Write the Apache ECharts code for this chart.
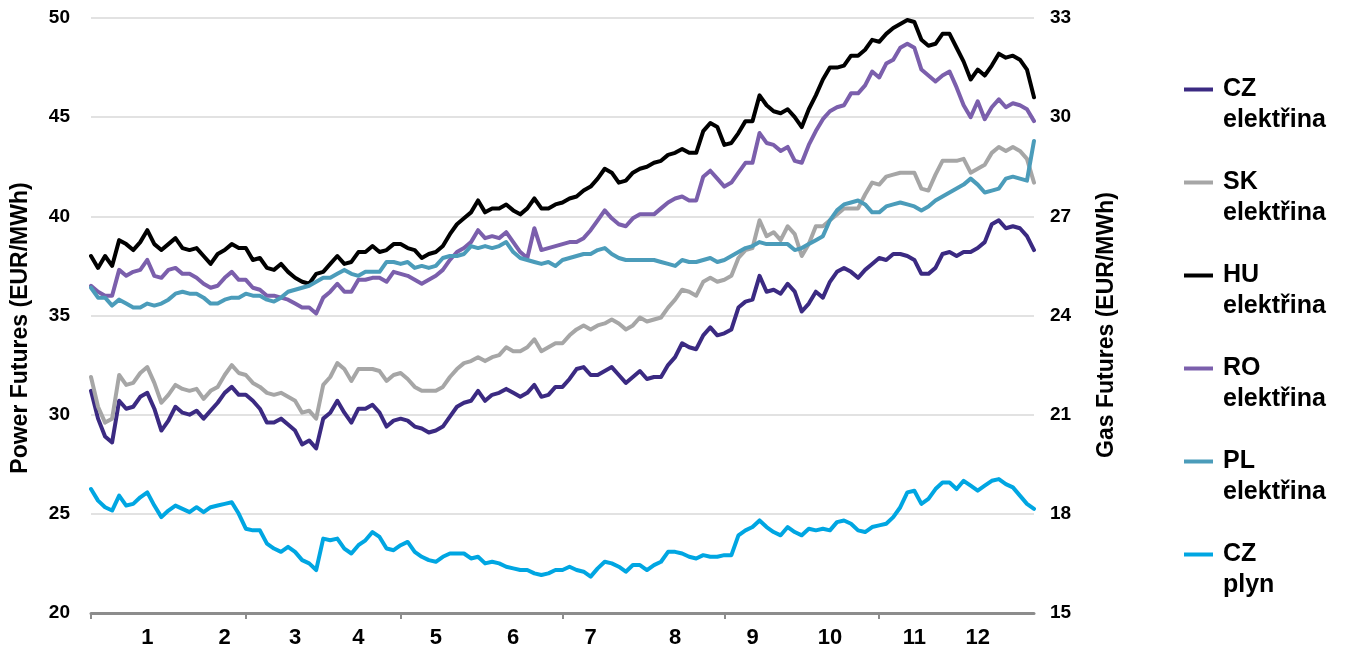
<!DOCTYPE html>
<html>
<head>
<meta charset="utf-8">
<script src="https://cdn.jsdelivr.net/npm/echarts@6/dist/echarts.min.js"></script>
<style>
html, body { margin: 0; padding: 0; background: #fff; }
#chart { width: 1349px; height: 656px; }
</style>
</head>
<body>
<div id="chart"></div>
<script>
// power futures, EUR/MWh (left axis)
var czPower = [31.2,29.8,28.9,28.6,30.7,30.3,30.4,30.9,31.1,30.3,
  29.2,29.7,30.4,30.1,30.0,30.2,29.8,30.2,30.6,31.1,
  31.4,31.0,31.0,30.7,30.3,29.6,29.6,29.8,29.5,29.2,
  28.5,28.7,28.3,29.8,30.1,30.7,30.1,29.6,30.3,30.3,
  30.5,30.1,29.4,29.7,29.8,29.7,29.4,29.3,29.1,29.2,
  29.4,29.9,30.4,30.6,30.7,31.2,30.7,31.0,31.1,31.3,
  31.1,30.9,31.1,31.5,30.9,31.0,31.4,31.4,31.8,32.3,
  32.4,32.0,32.0,32.2,32.4,32.0,31.6,31.9,32.2,31.8,
  31.9,31.9,32.5,32.9,33.6,33.4,33.3,34.0,34.4,34.0,
  34.1,34.3,35.4,35.7,35.8,37.0,36.2,36.3,36.1,36.6,
  36.2,35.2,35.6,36.2,35.9,36.7,37.2,37.4,37.2,36.9,
  37.3,37.6,37.9,37.8,38.1,38.1,38.0,37.8,37.1,37.1,
  37.4,38.1,38.2,38.0,38.2,38.2,38.4,38.7,39.6,39.8,
  39.4,39.5,39.4,39.0,38.3];
var skPower = [31.9,30.4,29.6,29.8,32.0,31.5,31.6,32.1,32.4,31.6,
  30.6,31.0,31.5,31.3,31.2,31.3,30.8,31.2,31.4,32.0,
  32.5,32.1,32.0,31.6,31.4,31.1,31.0,31.1,30.9,30.7,
  30.1,30.2,29.8,31.5,31.9,32.6,32.3,31.7,32.3,32.3,
  32.3,32.2,31.7,32.0,32.1,31.8,31.4,31.2,31.2,31.2,
  31.4,31.9,32.3,32.6,32.7,32.9,32.7,32.9,33.0,33.4,
  33.2,33.2,33.4,33.8,33.2,33.4,33.6,33.6,34.0,34.3,
  34.5,34.3,34.5,34.6,34.8,34.6,34.3,34.5,34.9,34.7,
  34.8,34.9,35.4,35.8,36.3,36.2,36.0,36.7,36.9,36.7,
  36.8,37.0,37.9,38.3,38.4,39.8,39.0,39.2,38.8,39.5,
  39.1,38.0,38.6,39.5,39.5,39.8,40.1,40.4,40.4,40.4,
  41.1,41.7,41.6,42.0,42.1,42.2,42.2,42.2,41.4,41.3,
  42.1,42.8,42.8,42.8,42.9,42.2,42.4,42.6,43.2,43.5,
  43.3,43.5,43.3,42.9,41.7];
var huPower = [38.0,37.4,38.0,37.5,38.8,38.6,38.3,38.7,39.3,38.6,
  38.3,38.6,38.9,38.4,38.3,38.4,38.0,37.6,38.1,38.3,
  38.6,38.4,38.4,37.8,37.9,37.4,37.3,37.6,37.2,36.9,
  36.7,36.6,37.1,37.2,37.6,38.0,37.6,37.7,38.2,38.2,
  38.5,38.2,38.3,38.6,38.6,38.4,38.3,37.9,38.1,38.2,
  38.5,39.1,39.6,39.9,40.2,40.8,40.2,40.4,40.4,40.6,
  40.3,40.1,40.4,40.9,40.4,40.4,40.6,40.7,40.9,41.0,
  41.3,41.5,41.9,42.4,42.2,41.7,41.8,42.2,42.4,42.5,
  42.7,42.8,43.1,43.2,43.4,43.2,43.2,44.3,44.7,44.5,
  43.6,43.7,44.2,44.8,44.8,46.1,45.6,45.3,45.2,45.4,
  45.0,44.5,45.4,46.1,46.9,47.5,47.5,47.6,48.1,48.1,
  48.4,48.9,48.8,49.2,49.5,49.7,49.9,49.8,48.9,48.6,
  48.7,49.2,49.2,48.5,47.8,46.9,47.4,47.1,47.6,48.2,
  48.0,48.1,47.9,47.4,46.0];
var roPower = [36.5,36.2,36.0,36.0,37.3,37.0,37.2,37.3,37.8,37.0,
  36.9,37.3,37.4,37.1,37.1,36.9,36.6,36.4,36.5,36.9,
  37.2,36.8,36.8,36.4,36.3,36.0,36.0,35.9,35.8,35.6,
  35.4,35.4,35.1,35.9,36.2,36.6,36.2,36.2,36.8,36.8,
  36.9,36.9,36.7,37.2,37.1,37.0,36.8,36.6,36.8,37.0,
  37.3,37.8,38.2,38.4,38.7,39.3,38.9,39.0,38.9,39.2,
  38.7,38.2,37.9,39.4,38.3,38.4,38.5,38.6,38.7,38.7,
  38.9,39.3,39.8,40.3,39.9,39.6,39.5,39.9,40.1,40.1,
  40.1,40.4,40.7,40.9,41.0,40.8,40.8,42.0,42.3,41.9,
  41.5,41.7,42.2,42.7,42.7,44.2,43.7,43.6,43.3,43.5,
  42.8,42.7,43.6,44.3,44.9,45.3,45.5,45.6,46.2,46.2,
  46.6,47.3,47.0,47.7,47.9,48.5,48.7,48.5,47.4,47.1,
  46.8,47.1,47.3,46.5,45.6,45.0,45.8,44.9,45.5,45.9,
  45.5,45.7,45.6,45.4,44.8];
var plPower = [36.4,35.9,35.9,35.5,35.8,35.6,35.4,35.4,35.6,35.5,
  35.6,35.8,36.1,36.2,36.1,36.1,35.9,35.6,35.6,35.8,
  35.9,35.9,36.1,36.0,36.0,35.8,35.7,35.9,36.2,36.3,
  36.4,36.5,36.7,36.9,36.9,37.1,37.3,37.1,37.0,37.2,
  37.2,37.2,37.7,37.7,37.6,37.7,37.4,37.5,37.4,37.5,
  37.9,38.0,38.0,38.1,38.5,38.4,38.5,38.4,38.5,38.7,
  38.2,37.9,37.8,37.7,37.6,37.7,37.5,37.8,37.9,38.0,
  38.1,38.1,38.3,38.4,38.1,37.9,37.8,37.8,37.8,37.8,
  37.8,37.7,37.6,37.5,37.8,37.7,37.7,37.8,37.9,37.7,
  37.8,38.0,38.2,38.4,38.5,38.7,38.6,38.6,38.6,38.6,
  38.3,38.4,38.6,38.8,39.0,39.8,40.3,40.6,40.7,40.8,
  40.6,40.2,40.2,40.5,40.6,40.7,40.6,40.5,40.3,40.5,
  40.8,41.0,41.2,41.4,41.6,41.9,41.6,41.2,41.3,41.4,
  41.9,42.0,41.9,41.8,43.8];
// gas futures, EUR/MWh (right axis)
var czGas = [18.75,18.4,18.2,18.1,18.55,18.25,18.3,18.5,18.65,18.25,
  17.9,18.1,18.25,18.15,18.05,18.2,18.05,18.2,18.25,18.3,
  18.35,18.0,17.55,17.5,17.5,17.1,16.95,16.85,17.0,16.85,
  16.6,16.5,16.3,17.25,17.2,17.25,16.95,16.8,17.05,17.2,
  17.45,17.3,16.95,16.9,17.05,17.15,16.85,16.7,16.6,16.55,
  16.7,16.8,16.8,16.8,16.65,16.7,16.5,16.55,16.5,16.4,
  16.35,16.3,16.3,16.2,16.15,16.2,16.3,16.3,16.4,16.3,
  16.25,16.1,16.35,16.55,16.5,16.4,16.25,16.45,16.45,16.3,
  16.45,16.55,16.85,16.85,16.8,16.7,16.65,16.75,16.7,16.7,
  16.75,16.75,17.35,17.5,17.6,17.8,17.6,17.45,17.35,17.6,
  17.45,17.35,17.55,17.5,17.55,17.5,17.75,17.8,17.7,17.5,
  17.45,17.6,17.65,17.7,17.9,18.2,18.65,18.7,18.3,18.45,
  18.75,18.95,18.95,18.75,19.0,18.85,18.7,18.85,19.0,19.05,
  18.9,18.8,18.55,18.3,18.15];

var monthLabels = ['1','2','3','4','5','6','7','8','9','10','11','12'];
var monthLabelIdx = [8,19,29,38,49,60,71,83,94,105,117,126];
var tickIdx = [0,22,44,67,90,112];

var seriesNames = ['CZ\nelektřina','SK\nelektřina','HU\nelektřina','RO\nelektřina','PL\nelektřina','CZ\nplyn'];
var seriesColors = ['#3b2a82','#a6a6a6','#000000','#7b5fac','#4b9cba','#00a6e2'];
var seriesData = [czPower, skPower, huPower, roPower, plPower, czGas];

var days = czPower.map(function(d, i) { return String(i); });

var font = '"Liberation Sans", Arial, sans-serif';

var chart = echarts.init(document.getElementById('chart'));

var series = seriesData.map(function(d, k) {
  return {
    name: seriesNames[k],
    type: 'line',
    yAxisIndex: k === 5 ? 1 : 0,
    data: d,
    symbol: 'none',
    smooth: false,
    lineStyle: { color: seriesColors[k], width: 4, cap: 'round', join: 'round' },
    itemStyle: { color: seriesColors[k] }
  };
});

chart.setOption({
  animation: false,
  grid: { left: 91, right: 315, top: 18, bottom: 43 },
  legend: {
    orient: 'vertical',
    left: 1184,
    top: 43,
    padding: 0,
    itemGap: 0,
    itemWidth: 29,
    itemHeight: 4,
    icon: 'rect',
    // empty first line keeps the colour bar level with the first text line
    formatter: function(name) {
      var p = name.split('\n');
      return '\n{s| }' + p[0] + '\n{s| }' + p[1];
    },
    textStyle: {
      fontFamily: font, fontWeight: 'bold', fontSize: 25, color: '#000',
      lineHeight: 31,
      rich: { s: { width: 5, lineHeight: 31, fontSize: 25 } }
    },
    data: seriesNames
  },
  graphic: [{
    type: 'text',
    x: 21, y: 328,
    rotation: Math.PI / 2,
    style: {
      text: 'Power Futures (EUR/MWh)',
      fontFamily: font, fontWeight: 'bold', fontSize: 23, fill: '#000',
      align: 'center', verticalAlign: 'middle'
    }
  }, {
    type: 'text',
    x: 1107, y: 325,
    rotation: Math.PI / 2,
    style: {
      text: 'Gas Futures (EUR/MWh)',
      fontFamily: font, fontWeight: 'bold', fontSize: 23, fill: '#000',
      align: 'center', verticalAlign: 'middle'
    }
  }],
  xAxis: {
    type: 'category',
    data: days,
    boundaryGap: false,
    axisLine: { lineStyle: { color: '#8c8c8c', width: 3 } },
    axisTick: {
      show: true, length: 6,
      lineStyle: { color: '#8c8c8c', width: 2 },
      interval: function(i) { return tickIdx.indexOf(i) >= 0; }
    },
    axisLabel: {
      margin: 14,
      fontFamily: font, fontWeight: 'bold', fontSize: 22, color: '#000',
      interval: function(i) { return monthLabelIdx.indexOf(i) >= 0; },
      formatter: function(v, i) {
        var k = monthLabelIdx.indexOf(Number(v));
        return k >= 0 ? monthLabels[k] : '';
      }
    },
    splitLine: { show: false }
  },
  yAxis: [{
    type: 'value',
    min: 20, max: 50, interval: 5,
    axisLine: { show: false },
    axisTick: { show: false },
    axisLabel: { margin: 21, fontFamily: font, fontWeight: 'bold', fontSize: 19, color: '#000' },
    splitLine: { lineStyle: { color: '#d9d9d9', width: 1.5 } }
  }, {
    type: 'value',
    min: 15, max: 33, interval: 3,
    axisLine: { show: false },
    axisTick: { show: false },
    axisLabel: { margin: 16, fontFamily: font, fontWeight: 'bold', fontSize: 19, color: '#000' },
    splitLine: { show: false }
  }],
  series: series
});
</script>
</body>
</html>
